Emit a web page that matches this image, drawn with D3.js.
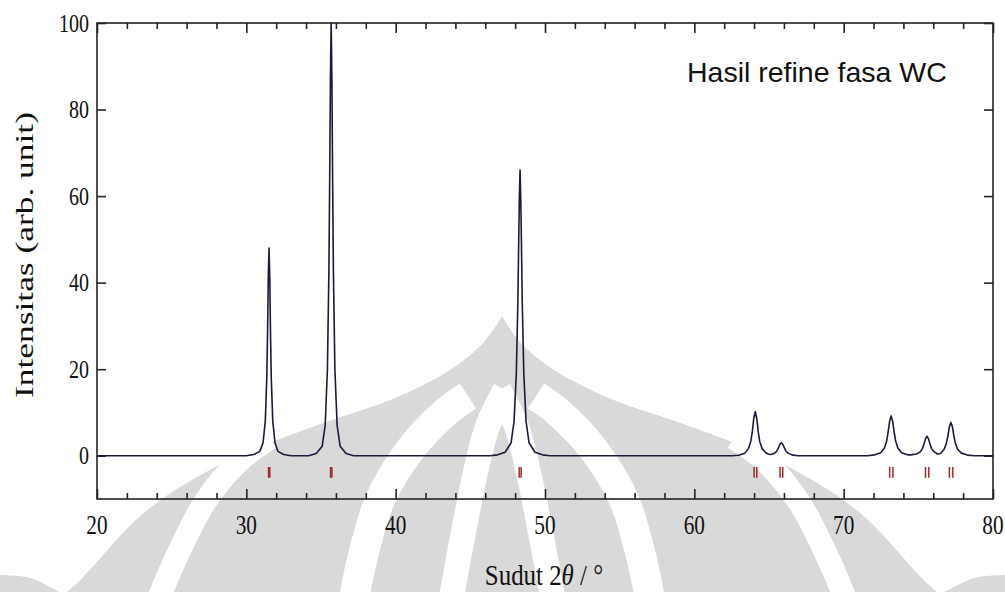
<!DOCTYPE html>
<html>
<head>
<meta charset="utf-8">
<script src="https://cdn.jsdelivr.net/npm/d3@7"></script>
<style>
  html, body { margin: 0; padding: 0; background: #ffffff; }
  svg { display: block; }
</style>
</head>
<body>
<svg id="chart" width="1005" height="592"></svg>
<script>
// Refined XRD profile of the WC phase (2θ in degrees, intensity in arb. units)
const twoTheta = [
  20, 30.0, 30.5, 30.9, 31.12, 31.27, 31.37, 31.42, 31.47, 31.52, 31.57, 31.62, 31.67, 31.77, 31.92, 32.12, 32.5, 33.0,
  34.18, 34.68, 35.08, 35.28, 35.43, 35.53, 35.58, 35.63, 35.68, 35.73, 35.78, 35.83, 35.93, 36.08, 36.28, 36.68, 37.18,
  46.33, 46.83, 47.33, 47.73, 47.93, 48.08, 48.18, 48.23, 48.28, 48.33, 48.38, 48.43, 48.48, 48.58, 48.73, 48.93, 49.33, 49.83, 50.33,
  62.5, 62.98, 63.38, 63.63, 63.78, 63.88, 63.98, 64.08, 64.18, 64.28, 64.38, 64.53, 64.78, 64.95,
  65.13, 65.38, 65.53, 65.63, 65.73, 65.83, 65.93, 66.03, 66.13, 66.28, 66.53, 66.93,
  71.6, 72.08, 72.48, 72.73, 72.88, 72.98, 73.08, 73.18, 73.28, 73.38, 73.48, 73.63, 73.88, 74.28,
  74.48, 74.88, 75.13, 75.28, 75.38, 75.48, 75.58, 75.68, 75.78, 75.88, 76.03, 76.28,
  76.48, 76.73, 76.88, 76.98, 77.08, 77.18, 77.28, 77.38, 77.48, 77.63, 77.88, 78.28, 78.8, 80
];
const intensity = [
  0, 0, 0.3, 1.0, 3.0, 8, 18, 28, 41, 48, 41, 28, 18, 8, 3.0, 1.0, 0.3, 0,
  0, 0.5, 2.2, 7, 20, 43, 63, 87, 100, 87, 63, 43, 20, 7, 2.2, 0.5, 0,
  0, 0.2, 0.8, 3, 8, 19, 35, 47, 59, 66, 59, 47, 35, 19, 8, 3, 0.8, 0.2, 0,
  0, 0.1, 0.6, 1.7, 3.3, 5.5, 8.6, 10.2, 8.6, 5.5, 3.3, 1.7, 0.7, 0.4,
  0.3, 0.6, 1.1, 1.8, 2.6, 3.0, 2.6, 1.8, 1.1, 0.6, 0.2, 0,
  0, 0.2, 0.7, 1.8, 3.4, 5.5, 8.0, 9.2, 8.0, 5.5, 3.4, 1.8, 0.7, 0.2,
  0.2, 0.4, 0.9, 1.7, 2.7, 3.9, 4.5, 3.9, 2.7, 1.7, 1.0, 0.4,
  0.5, 1.5, 2.9, 4.6, 6.7, 7.7, 6.7, 4.6, 2.9, 1.5, 0.6, 0.15, 0, 0
];

// Bragg reflection positions of WC (Kα1 and Kα2 components)
const reflKa1 = [31.49, 35.64, 48.27, 64.00, 65.74, 73.08, 75.48, 77.08];
const reflKa2 = [31.57, 35.73, 48.40, 64.18, 65.92, 73.30, 75.70, 77.31];

// Axis ticks
const xMajorTicks = [20, 30, 40, 50, 60, 70, 80];
const xMinorTicks = [22, 24, 26, 28, 32, 34, 36, 38, 42, 44, 46, 48, 52, 54, 56, 58, 62, 64, 66, 68, 72, 74, 76, 78];
const yTicks = [0, 20, 40, 60, 80, 100];

const titleText = "Hasil refine fasa WC";
const yLabelText = "Intensitas (arb. unit)";

const svg = d3.select("#chart");
const W = 1005, H = 592;
const margin = { left: 97, right: 12, top: 23, bottom: 93 };
const x = d3.scaleLinear().domain([20, 80]).range([margin.left, W - margin.right]);
const y = d3.scaleLinear().domain([-10, 100]).range([H - margin.bottom, margin.top]);

// ---- background emblem: grey ogive cut by white bands ----
const emblem = svg.append("g").attr("class", "emblem");
const cx = 502;
const smooth = d3.line().curve(d3.curveCatmullRom.alpha(0.5));
const mirror = pts => pts.map(([px, py]) => [2 * cx - px, py]);
function domePath(left) {
  const right = mirror(left).reverse();
  return smooth(left) + "L" + smooth(right).slice(1) + "Z";
}
const domeEdge = [[40, 612], [74, 586], [145, 512], [225, 462], [315, 426], [395, 398], [450, 370], [484, 342], [502, 316]];
emblem.append("path").attr("d", domePath(domeEdge)).attr("fill", "#d9d9d9");

// outer wing tips in the lower corners
const cornerTip = [[-5, 575], [30, 578], [66, 596]];
[cornerTip, mirror(cornerTip)].forEach(p => {
  emblem.append("path")
    .attr("d", smooth(p) + `L${p[2][0]},600L${p[0][0]},600Z`)
    .attr("fill", "#d9d9d9");
});

const bands = [
  { pts: [[156, 605], [176, 558], [205, 502], [238, 462], [270, 438]], w: 23 },
  { pts: [[353, 605], [362, 560], [380, 500], [410, 450], [446, 412], [468, 396]], w: 30 },
  { pts: [[450, 605], [462, 540], [476, 470], [488, 425], [505, 390]], w: 25 }
];
bands.forEach(b => {
  [b.pts, mirror(b.pts)].forEach(p => {
    emblem.append("path").attr("d", smooth(p))
      .attr("fill", "none").attr("stroke", "#ffffff").attr("stroke-width", b.w);
  });
});

// ---- frame ----
const plot = svg.append("g");
plot.append("rect")
  .attr("x", x(20)).attr("y", y(100))
  .attr("width", x(80) - x(20)).attr("height", y(-10) - y(100))
  .attr("fill", "none").attr("stroke", "#222").attr("stroke-width", 1.6);

// ---- ticks (pointing inward on all four sides) ----
function tickAxis(axisFn, scale, values, size, transform) {
  const g = plot.append("g").attr("transform", transform)
    .call(axisFn(scale).tickValues(values).tickSize(size).tickFormat(""));
  g.select(".domain").remove();
  g.selectAll("line").attr("stroke", "#222").attr("stroke-width", 1.6);
  return g;
}
tickAxis(d3.axisBottom, x, xMajorTicks, -10, `translate(0,${y(-10)})`);
tickAxis(d3.axisBottom, x, xMinorTicks, -6, `translate(0,${y(-10)})`);
tickAxis(d3.axisTop, x, xMajorTicks, -10, `translate(0,${y(100)})`);
tickAxis(d3.axisTop, x, xMinorTicks, -6, `translate(0,${y(100)})`);
tickAxis(d3.axisLeft, y, yTicks, -9, `translate(${x(20)},0)`);
tickAxis(d3.axisRight, y, yTicks, -9, `translate(${x(80)},0)`);

// ---- tick labels ----
const serif = "'Liberation Serif', 'Times New Roman', serif";
plot.append("g").selectAll("text").data(yTicks).join("text")
  .attr("transform", d => `translate(${x(20) - 8},${y(d)}) scale(0.8,1)`)
  .attr("dy", "0.34em")
  .attr("text-anchor", "end")
  .attr("font-family", serif).attr("font-size", 25).attr("fill", "#111")
  .text(d => d);

plot.append("g").selectAll("text").data(xMajorTicks).join("text")
  .attr("transform", d => `translate(${x(d)},534) scale(0.76,1)`)
  .attr("text-anchor", "middle")
  .attr("font-family", serif).attr("font-size", 28).attr("fill", "#111")
  .text(d => d);

// ---- axis titles ----
const xl = plot.append("text")
  .attr("transform", `translate(${544},585) scale(0.83,1)`)
  .attr("text-anchor", "middle")
  .attr("font-family", serif).attr("font-size", 30).attr("fill", "#111");
xl.append("tspan").text("Sudut 2");
xl.append("tspan").attr("font-style", "italic").text("θ");
xl.append("tspan").text(" / °");

plot.append("text")
  .attr("transform", `translate(33,255) rotate(-90) scale(1.18,0.85)`)
  .attr("text-anchor", "middle")
  .attr("font-family", serif).attr("font-size", 30).attr("fill", "#111")
  .text(yLabelText);

// ---- calculated profile ----
const profile = twoTheta.map((t, i) => ({ t, v: intensity[i] }));
const line = d3.line().x(d => x(d.t)).y(d => y(d.v)).curve(d3.curveLinear);
plot.append("path")
  .datum(profile)
  .attr("d", line)
  .attr("fill", "none")
  .attr("stroke", "#1a1a3c")
  .attr("stroke-width", 1.6)
  .attr("stroke-linejoin", "round");

// ---- reflection markers ----
const refl = reflKa1.concat(reflKa2);
plot.append("g").selectAll("line").data(refl).join("line")
  .attr("x1", d => x(d)).attr("x2", d => x(d))
  .attr("y1", y(-2.6)).attr("y2", y(-5.1))
  .attr("stroke", "#a3242a").attr("stroke-width", 1.5);

// ---- phase annotation ----
plot.append("text")
  .attr("x", 687).attr("y", 82)
  .attr("font-family", "'Liberation Sans', Arial, sans-serif")
  .attr("font-size", 28.5).attr("fill", "#111")
  .text(titleText);
</script>
</body>
</html>
